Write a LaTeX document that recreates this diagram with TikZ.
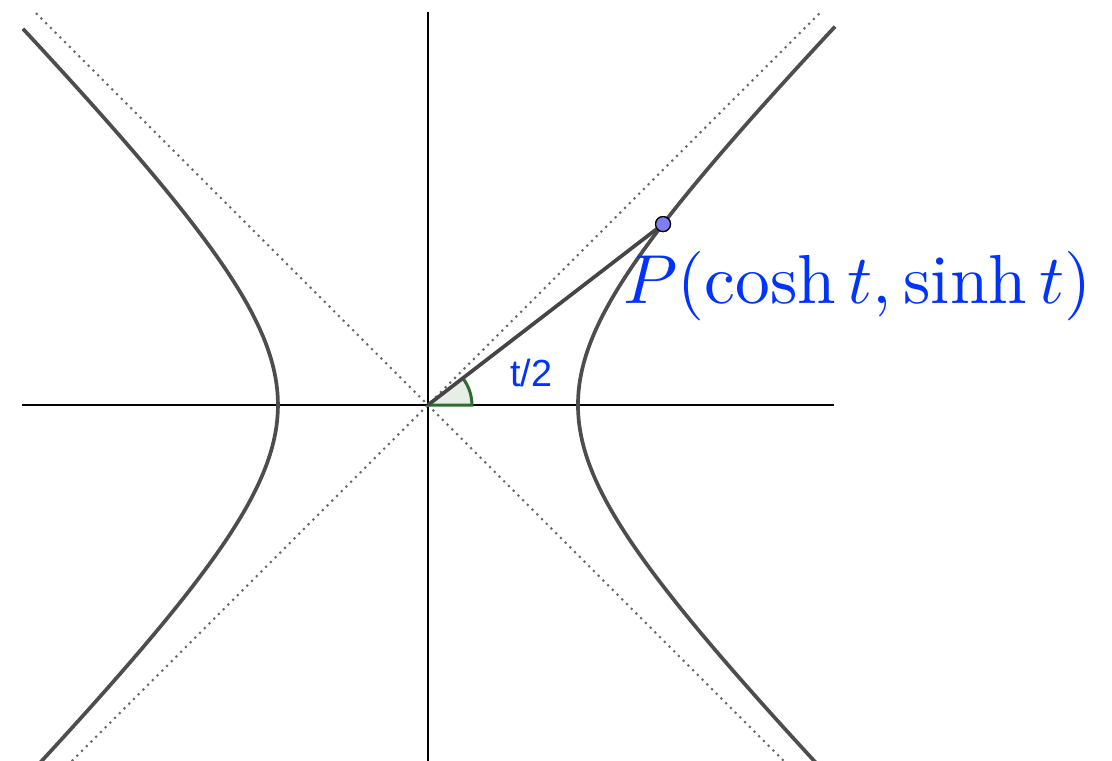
\documentclass[tikz,border=0pt]{standalone}
\usepackage{fontspec}
\newfontfamily\labsans{Liberation Sans}
\definecolor{curve}{HTML}{4D4D4D}
\definecolor{asym}{HTML}{6A6A6A}
\definecolor{lblue}{HTML}{0033FF}
\definecolor{agreen}{HTML}{2E6B2E}
\definecolor{afill}{HTML}{E6EEE6}
\definecolor{ptfill}{HTML}{7F7FF5}
\tikzset{
  axisline/.style={line width=0.9pt, black},
  asymline/.style={line width=1.2pt, asym, dash pattern=on 1.2pt off 2.6pt},
  hyp/.style={line width=2.1pt, curve, smooth, samples=120},
  seg/.style={line width=2.1pt, curve!90!black},
  ptstyle/.style={circle, draw=black, fill=ptfill, line width=0.7pt, inner sep=0pt, minimum size=8.5pt},
  lbl/.style={text=lblue, inner sep=0pt}
}
\begin{document}
\begin{tikzpicture}[x=3cm,y=3cm]
\useasboundingbox (-2.853,-2.367) rectangle (4.56,2.7);
\clip (-2.853,-2.367) rectangle (4.56,2.7);
\coordinate (O) at (0,0);
% axes
\draw[axisline] (-2.707,0) -- (2.707,0);
\draw[axisline] (0,-2.5) -- (0,2.62);
% asymptotes
\draw[asymline] (-2.613,2.613) -- (2.5,-2.5);
\draw[asymline] (-2.5,-2.5) -- (2.613,2.613);
% hyperbola branches
\draw[hyp] plot[domain=-1.62:1.657] ({cosh(\x)},{sinh(\x)});
\draw[hyp] plot[domain=-1.62:1.652] ({-cosh(\x)},{sinh(\x)});
% angle mark
\fill[afill] (O) -- (0.293,0) arc (0:37.59:0.293) -- cycle;
\draw[agreen, line width=1.7pt] (O) -- (0.293,0) arc (0:37.59:0.293);
% point and segment
\node[ptstyle] (P) at (1.567,1.206) {};
\draw[seg] (O) -- (P);
\node[ptstyle] at (P) {};
% labels
\node[lbl, scale=3.95] (plabel) at (2.862,0.79) {$P(\cosh t,\sinh t)$};
\node[lbl, scale=2.15] (alabel) at (0.687,0.213) {\labsans t/2};
\end{tikzpicture}
\end{document}
